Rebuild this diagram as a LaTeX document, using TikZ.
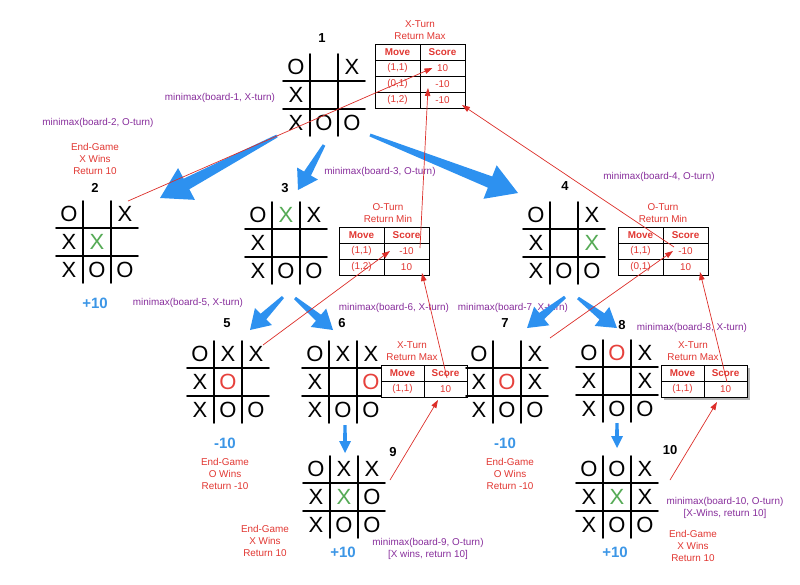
\documentclass[tikz,border=0pt]{standalone}
\usepackage{fontspec}
\setmainfont{Liberation Sans}
\usetikzlibrary{calc,arrows.meta,shadows}
\pgfdeclarelayer{background}
\pgfsetlayers{background,main}

\definecolor{callpurple}{RGB}{135,45,155}
\definecolor{notered}{RGB}{225,55,50}
\definecolor{linered}{RGB}{220,45,40}
\definecolor{arrowblue}{RGB}{45,145,240}
\definecolor{scoreblue}{RGB}{60,150,230}
\definecolor{xgreen}{RGB}{85,170,85}
\definecolor{ored}{RGB}{230,65,60}

\newcommand{\notesize}{\fontsize{9.9}{12.3}\selectfont}
% marks for the board cells
\newcommand{\mkO}{O}
\newcommand{\mkX}{X}
\newcommand{\mkG}{\textcolor{xgreen}{X}}
\newcommand{\mkR}{\textcolor{ored}{O}}
\newcommand{\mkE}{}

\begin{document}
\begin{tikzpicture}[
    x=1pt, y=-1pt,
    gridline/.style={line width=1.8pt, line cap=round},
    boardbox/.style={minimum size=82pt, inner sep=0pt, outer sep=0pt},
    cell/.style={font=\fontsize{22}{22}\selectfont, inner sep=0pt},
    boardnum/.style={font=\bfseries\fontsize{13}{13}\selectfont},
    callnote/.style={text=callpurple, font=\notesize, align=center},
    endnote/.style={text=notered, font=\notesize, align=center},
    scorenote/.style={text=scoreblue, font=\bfseries\fontsize{15}{15}\selectfont},
    tcell/.style={draw, line width=0.9pt, fill=white, text=notered, font=\notesize,
        minimum height=16pt, inner sep=0pt, outer sep=0pt},
    thead/.style={tcell, font=\notesize\bfseries},
    retline/.style={draw=linered, line width=0.7pt, -{Triangle[length=8pt,width=5.5pt]}}
]
\useasboundingbox (0,0) rectangle (800,584);

% Helper macro for a board: name, x, y, nine cells (O, X, G = green X, R = red O, E = empty)
\newcommand{\board}[4]{%
    \node[boardbox] (#1) at (#2,#3) {};
    \draw[gridline] ([xshift=-14pt]#1.north) -- ([xshift=-14pt]#1.south);
    \draw[gridline] ([xshift=14pt]#1.north) -- ([xshift=14pt]#1.south);
    \draw[gridline] ([yshift=14pt]#1.west) -- ([yshift=14pt]#1.east);
    \draw[gridline] ([yshift=-14pt]#1.west) -- ([yshift=-14pt]#1.east);
    \foreach \s [count=\i from 0] in {#4} {
        \pgfmathtruncatemacro{\bcol}{mod(\i,3)-1}
        \pgfmathtruncatemacro{\brow}{int(\i/3)-1}
        \node[cell] (#1-\i) at ($(#1)+(28*\bcol,28*\brow)$) {\csname mk\s\endcsname};
    }
}

% Helper macro for a score table: name, left, top, column width, rows
\newcommand{\sctable}[5]{%
    \node[thead, minimum width=#4pt, anchor=north west] (#1-r0-m) at (#2,#3) {Move};
    \node[thead, minimum width=#4pt, anchor=north west] (#1-r0-s) at (#1-r0-m.north east) {Score};
    \foreach \m/\s [count=\i, evaluate=\i as \j using int(\i-1)] in {#5} {
        \node[tcell, minimum width=#4pt, anchor=north west] (#1-r\i-m) at (#1-r\j-m.south west) {\m};
        \node[tcell, minimum width=#4pt, anchor=north west] (#1-r\i-s) at (#1-r\i-m.north east) {\s};
    }
}

% Helper macro for a fat blue arrow: from, to, tail width, neck width, head width, head length
\newcommand{\fatarrow}[6]{%
    \coordinate (fa-s) at (#1);
    \coordinate (fa-e) at (#2);
    \coordinate (fa-h) at ($(fa-e)!#6!(fa-s)$);
    \fill[arrowblue] ($(fa-s)!0.5*#3!90:(fa-e)$) -- ($(fa-h)!0.5*#4!90:(fa-e)$)
        -- ($(fa-h)!0.5*#5!90:(fa-e)$) -- (fa-e) -- ($(fa-h)!0.5*#5!-90:(fa-e)$)
        -- ($(fa-h)!0.5*#4!-90:(fa-e)$) -- ($(fa-s)!0.5*#3!-90:(fa-e)$) -- cycle;
}

% Level 0: board 1
\board{b1}{324}{95}{O,E,X,X,E,E,X,O,O}
\node[boardnum] (n1) at (322,38) {1};
\node[callnote] (c1) at (220,98) {minimax(board-1, X-turn)};
\sctable{t1}{375}{44}{45}{{(1,1)}/10,{(0,1)}/-10,{(1,2)}/-10}
\node[endnote, anchor=south] (t1-title) at ([yshift=1pt]t1-r0-m.north east) {X-Turn\\Return Max};

% Level 1: boards 2, 3, 4
\board{b2}{97}{242}{O,E,X,X,G,E,X,O,O}
\node[boardnum] (n2) at (95,188) {2};
\node[callnote] (c2) at (98,123) {minimax(board-2, O-turn)};
\node[endnote] (e2) at (95,159) {End-Game\\X Wins\\Return 10};
\node[scorenote] (s2) at (95,303) {+10};

\board{b3}{286}{243}{O,G,X,X,E,E,X,O,O}
\node[boardnum] (n3) at (285,188) {3};
\node[callnote] (c3) at (380,172) {minimax(board-3, O-turn)};
\sctable{t3}{339}{227}{45}{{(1,1)}/-10,{(1,2)}/10}
\node[endnote, anchor=south] (t3-title) at ([xshift=4pt,yshift=1pt]t3-r0-m.north east) {O-Turn\\Return Min};

\board{b4}{564}{243}{O,E,X,X,E,G,X,O,O}
\node[boardnum] (n4) at (565,186) {4};
\node[callnote] (c4) at (659,177) {minimax(board-4, O-turn)};
\sctable{t4}{618}{227}{45}{{(1,1)}/-10,{(0,1)}/10}
\node[endnote, anchor=south] (t4-title) at ([yshift=1pt]t4-r0-m.north east) {O-Turn\\Return Min};

% Level 2: boards 5, 6, 7, 8
\board{b5}{228}{382}{O,X,X,X,R,E,X,O,O}
\node[boardnum] (n5) at (227,323) {5};
\node[callnote] (c5) at (188,303) {minimax(board-5, X-turn)};
\node[scorenote] (s5) at (225,443) {-10};
\node[endnote] (e5) at (225,474) {End-Game\\O Wins\\Return -10};

\board{b6}{343}{382}{O,X,X,X,E,R,X,O,O}
\node[boardnum] (n6) at (342,323) {6};
\node[callnote] (c6) at (394,308) {minimax(board-6, X-turn)};
\sctable{t6}{381}{365}{43}{{(1,1)}/10}
\node[endnote, anchor=south] (t6-title) at ([xshift=-12pt,yshift=1pt]t6-r0-m.north east) {X-Turn\\Return Max};

\board{b7}{507}{382}{O,E,X,X,R,X,X,O,O}
\node[boardnum] (n7) at (505,323) {7};
\node[callnote] (c7) at (513,308) {minimax(board-7, X-turn)};
\node[scorenote] (s7) at (505,443) {-10};
\node[endnote] (e7) at (510,474) {End-Game\\O Wins\\Return -10};

\board{b8}{617}{381}{O,R,X,X,E,X,X,O,O}
\node[boardnum] (n8) at (622,325) {8};
\node[callnote] (c8) at (692,328) {minimax(board-8, X-turn)};
\sctable{t8}{661}{365}{43}{{(1,1)}/10}
\node[endnote, anchor=south] (t8-title) at ([xshift=-11pt,yshift=1pt]t8-r0-m.north east) {X-Turn\\Return Max};
\begin{pgfonlayer}{background}
    \fill[white, drop shadow={shadow xshift=3pt, shadow yshift=-3pt, opacity=0.6}]
        (t8-r0-m.north west) rectangle (t8-r1-s.south east);
\end{pgfonlayer}

% Level 3: boards 9, 10
\board{b9}{344}{497}{O,X,X,X,G,O,X,O,O}
\node[boardnum] (n9) at (393,452) {9};
\node[callnote] (c9) at (428,549) {minimax(board-9, O-turn)\\{[}X wins, return 10{]}};
\node[scorenote] (s9) at (343,552) {+10};
\node[endnote] (e9) at (265,541) {End-Game\\X Wins\\Return 10};

\board{b10}{617}{497}{O,O,X,X,G,X,X,O,O}
\node[boardnum] (n10) at (670,450) {10};
\node[callnote] (c10) at (725,508) {minimax(board-10, O-turn)\\{[}X-Wins, return 10{]}};
\node[scorenote] (s10) at (615,552) {+10};
\node[endnote] (e10) at (693,546) {End-Game\\X Wins\\Return 10};

% Blue calls down the tree
\fatarrow{[xshift=-6pt]b1.south west}{[xshift=22pt,yshift=3pt]b2.north east}{3pt}{12pt}{36pt}{30pt}
\fatarrow{[yshift=-9pt]b1.south}{[xshift=12pt,yshift=12pt]b3.north}{3pt}{8pt}{24pt}{19pt}
\fatarrow{[xshift=5pt,yshift=1pt]b1.south east}{[xshift=-5pt,yshift=9pt]b4.north west}{3pt}{12pt}{36pt}{30pt}
\fatarrow{[xshift=-3pt,yshift=-13pt]b3.south}{[xshift=22pt,yshift=11pt]b5.north}{3pt}{8pt}{24pt}{19pt}
\fatarrow{[xshift=9pt,yshift=-14pt]b3.south}{[xshift=-10pt,yshift=11pt]b6.north}{3pt}{8pt}{24pt}{19pt}
\fatarrow{[xshift=1pt,yshift=-13pt]b4.south}{[xshift=20pt,yshift=13pt]b7.north}{3pt}{8pt}{24pt}{19pt}
\fatarrow{[xshift=14pt,yshift=-14pt]b4.south}{[yshift=12pt]b8.north}{3pt}{8pt}{24pt}{19pt}
\fatarrow{[xshift=2pt,yshift=-2pt]b6.south}{[xshift=1pt,yshift=3pt]b9.north}{3pt}{4pt}{12pt}{12pt}
\fatarrow{[yshift=-1pt]b8.south}{[yshift=8pt]b10.north}{3pt}{4pt}{12pt}{12pt}

% Red returns up the tree
\draw[retline] ([xshift=-10pt]b2.north east) -- ([xshift=-10pt]t1-r1-s.center);
\draw[retline] ([xshift=-9pt,yshift=-5pt]t3-r1-s.north east) -- ([xshift=-14.5pt,yshift=-4pt]t1-r2-s.center);
\draw[retline] ([xshift=11pt,yshift=4pt]t4-r1-s.west) -- ([xshift=-3pt,yshift=3pt]t1-r3-s.south east);
\draw[retline] ([xshift=-6pt,yshift=-4pt]b5.north east) -- ([xshift=6pt]t3-r1-s.west);
\draw[retline] ([xshift=1.5pt,yshift=3pt]t6-r1-s.north) -- ([xshift=-7pt,yshift=2pt]t3-r2-s.south east);
\draw[retline] ([xshift=2pt,yshift=3pt]b7.north east) -- ([xshift=10pt]t4-r1-s.west);
\draw[retline] ([xshift=1.5pt,yshift=-1pt]t8-r1-s.north) -- ([xshift=-8pt,yshift=3pt]t4-r2-s.south east);
\draw[retline] ([xshift=5pt,yshift=17pt]b9.east) -- ([xshift=-7.5pt,yshift=-3pt]t6-r1-s.south);
\draw[retline] ([xshift=12pt,yshift=17pt]b10.east) -- ([xshift=-8.5pt,yshift=-5pt]t8-r1-s.south);

\end{tikzpicture}
\end{document}
